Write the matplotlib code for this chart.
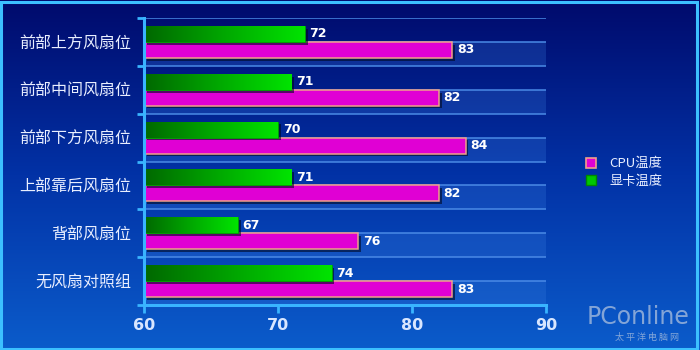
import numpy as np
import matplotlib
matplotlib.use('Agg')
import matplotlib.pyplot as plt
import matplotlib.patheffects as pe
from matplotlib.colors import LinearSegmentedColormap
from matplotlib.patches import Rectangle, Patch

plt.rcParams['font.family'] = ['Noto Sans CJK SC', 'DejaVu Sans']

# data, top to bottom as in the picture
categories = ['前部上方风扇位', '前部中间风扇位', '前部下方风扇位',
              '上部靠后风扇位', '背部风扇位', '无风扇对照组']
cpu_temp = [83, 82, 84, 82, 76, 83]
gpu_temp = [72, 71, 70, 71, 67, 74]
x_ticks = [60, 70, 80, 90]
series_names = ['CPU温度', '显卡温度']

fig = plt.figure(figsize=(7, 3.5), dpi=100)

# background gradient
bg = fig.add_axes([0, 0, 1, 1], zorder=0)
bg_cmap = LinearSegmentedColormap.from_list('bg', ['#000a6c', '#0232a6', '#0b5ccb'])
grad = np.linspace(0, 1, 256).reshape(-1, 1)
bg.imshow(grad, cmap=bg_cmap, aspect='auto', extent=[0, 1, 0, 1], origin='upper')
bg.set_xlim(0, 1)
bg.set_ylim(0, 1)
bg.axis('off')

ax = fig.add_axes([144 / 700, 1 - 305 / 350, 402 / 700, 287 / 350], zorder=1)
ax.patch.set_alpha(0)

n = len(categories)
ypos = np.arange(n)[::-1]  # bottom category at 0

# lighter bands and grid lines
for k in range(n):
    ax.axhspan(k, k + 0.5, color='#3a7ee0', alpha=0.25, lw=0, zorder=0.5)
for yl in np.arange(0.5, n + 0.01, 0.5):
    ax.axhline(yl, color='#4a8ae6', lw=1.1, zorder=0.8)

shadow = [pe.SimplePatchShadow(offset=(2, -2), shadow_rgbFace='#000820', alpha=0.6), pe.Normal()]

h = 1 / 3
cpu_bars = ax.barh(ypos + 1 / 3, np.array(cpu_temp) - 60, left=60, height=h,
                   color='#e000d4', edgecolor='#f0a08a', lw=1.1, zorder=2)
gpu_bars = ax.barh(ypos + 2 / 3, np.array(gpu_temp) - 60, left=60, height=h,
                   color='#00c000', edgecolor='#00a000', lw=0.6, zorder=2)
for b in list(cpu_bars) + list(gpu_bars):
    b.set_path_effects(shadow)

green_cmap = LinearSegmentedColormap.from_list('gr', ['#006800', '#00a800', '#00e400'])
ggrad = np.linspace(0, 1, 256).reshape(1, -1)
for b, v, y in zip(gpu_bars, gpu_temp, ypos + 2 / 3):
    im = ax.imshow(ggrad, cmap=green_cmap, aspect='auto',
                   extent=[60, v, y - h / 2, y + h / 2], zorder=2.1)
    im.set_clip_path(b)

for v, y in zip(cpu_temp, ypos + 1 / 3):
    ax.text(v + 0.35, y, str(v), color='white', fontsize=9, fontweight='bold',
            va='center', ha='left', family='DejaVu Sans', zorder=3)
for v, y in zip(gpu_temp, ypos + 2 / 3):
    ax.text(v + 0.35, y, str(v), color='white', fontsize=9, fontweight='bold',
            va='center', ha='left', family='DejaVu Sans', zorder=3)

ax.set_xlim(60, 90)
ax.set_ylim(0, n)
ax.set_xticks(x_ticks)
ax.set_xticklabels([str(t) for t in x_ticks], fontsize=11.5, fontweight='bold',
                   color='#d8e6ff', family='DejaVu Sans')
ax.set_yticks(np.arange(0, n + 1))
ax.set_yticklabels([])
ax.set_yticks(ypos + 0.5, minor=True)
ax.set_yticklabels(categories, minor=True, fontsize=11.5, color='#e8eeff')
ax.tick_params(axis='y', which='major', length=5, width=2, color='#39b4ff', direction='out')
ax.tick_params(axis='y', which='minor', length=0, pad=9)
ax.tick_params(axis='x', length=6, width=2, color='#39b4ff', direction='out', pad=3)

for s in ['top', 'right']:
    ax.spines[s].set_visible(False)
for s in ['left', 'bottom']:
    ax.spines[s].set_color('#39b4ff')
    ax.spines[s].set_linewidth(2.2)
    ax.spines[s].set_zorder(4)

handles = [Patch(facecolor='#e000d4', edgecolor='#f0a08a', lw=1.2),
           Patch(facecolor='#00c800', edgecolor='#008800', lw=1.0)]
leg = fig.legend(handles, series_names, loc='center left', bbox_to_anchor=(0.82, 0.507),
                 frameon=False, fontsize=9.5, handlelength=0.8, handleheight=0.8,
                 handletextpad=1.0, labelspacing=0.35)
for t in leg.get_texts():
    t.set_color('#e8eeff')

# watermark
fig.text(0.985, 0.06, 'PConline', ha='right', va='bottom', fontsize=17,
         color='#b8c8e0', alpha=0.7, family='DejaVu Sans')
fig.text(0.97, 0.022, '太 平 洋 电 脑 网', ha='right', va='bottom', fontsize=6.5,
         color='#b8c8e0', alpha=0.7)

# outer frame
fig.patches.append(Rectangle((0.002, 0.003), 0.994, 0.992, transform=fig.transFigure,
                             fill=False, edgecolor='#3cc0ff', lw=2.2, zorder=10))

fig.savefig('out.png', dpi=100)
